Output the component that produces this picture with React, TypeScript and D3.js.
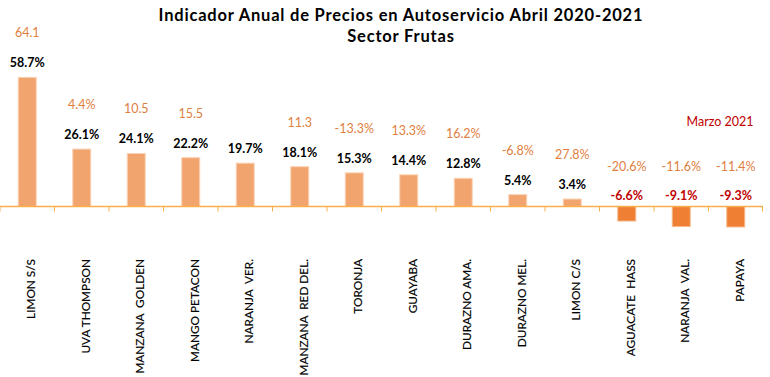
import React from "react";
import * as d3 from "d3";

const categories = [
  "LIMON S/S", "UVA THOMPSON", "MANZANA  GOLDEN", "MANGO PETACON", "NARANJA  VER.",
  "MANZANA  RED DEL.", "TORONJA", "GUAYABA", "DURAZNO AMA.", "DURAZNO MEL.",
  "LIMON C/S", "AGUACATE  HASS", "NARANJA  VAL.", "PAPAYA",
];
const values2021 = [58.7, 26.1, 24.1, 22.2, 19.7, 18.1, 15.3, 14.4, 12.8, 5.4, 3.4, -6.6, -9.1, -9.3];
const marchLabels: (string | null)[] = [
  "64.1", "4.4%", "10.5", "15.5", null, "11.3", "-13.3%", "13.3%", "16.2%", "-6.8%",
  "27.8%", "-20.6%", "-11.6%", "-11.4%",
];
const titleLines = ["Indicador Anual de Precios en Autoservicio Abril 2020-2021", "Sector Frutas"];
const noteText = "Marzo 2021";

const W = 770;
const H = 377;
const FONT = "Lato, 'Open Sans', sans-serif";

export default function App() {
  const x = d3.scaleBand<string>().domain(categories).range([0, 763]).padding(0);
  const y = d3.scaleLinear().domain([-15, 70]).range([239.5, 52.5]);
  const bw = x.bandwidth() * 0.33;
  const y0 = y(0);
  const fmt = (v: number) => v.toFixed(1) + "%";

  return (
    <svg width={W} height={H} style={{ position: "absolute", left: 0, top: 0, background: "#fff" }} fontFamily={FONT}>
      {titleLines.map((t, i) => (
        <text key={t} x={401} y={21 + i * 21} textAnchor="middle" fontSize={16.5} fontWeight={700} fill="#000" letterSpacing={0.8}>
          {t}
        </text>
      ))}
      <text x={720} y={126} textAnchor="middle" fontSize={12.5} fill="#C00000">{noteText}</text>

      {categories.map((c, i) => {
        const v = values2021[i];
        const cx = (x(c) as number) + x.bandwidth() / 2;
        const top = v >= 0 ? y(v) : y0;
        const h = Math.abs(y(v) - y0);
        return (
          <g key={c}>
            <rect
              x={cx - bw / 2}
              y={top}
              width={bw}
              height={h}
              fill={v >= 0 ? "#F2A46E" : "#EE7F33"}
              stroke={v >= 0 ? "#FAD3B5" : "#F6B98C"}
              strokeWidth={1}
            />
          </g>
        );
      })}

      <line x1={0} x2={763} y1={y0} y2={y0} stroke="#F9AE4E" strokeWidth={1.5} />
      {d3.range(categories.length + 1).map((i) => {
        const tx = Math.min(762.5, i * x.step());
        return <line key={i} x1={tx} x2={tx} y1={y0} y2={y0 + 5} stroke="#F9AE4E" strokeWidth={1} />;
      })}

      {categories.map((c, i) => {
        const v = values2021[i];
        const cx = (x(c) as number) + x.bandwidth() / 2;
        const anchorY = v >= 0 ? y(v) : y0;
        const m = marchLabels[i];
        return (
          <g key={"l" + c}>
            <text x={cx} y={anchorY - (v >= 0 ? 10 : 7)} textAnchor="middle" fontSize={12.5} fontWeight={700} fill={v >= 0 ? "#000" : "#C00000"}>
              {fmt(v)}
            </text>
            {m && (
              <text x={cx} y={anchorY - (v >= 0 ? 40 : 36)} textAnchor="middle" fontSize={12.5} fill="#E0803F">
                {m}
              </text>
            )}
            <text
              transform={`translate(${cx + 4},259) rotate(-90)`}
              textAnchor="end"
              dy="0.35em"
              fontSize={11.8}
              fill="#000"
              stroke="#000"
              strokeWidth={0.15}
              style={{ whiteSpace: "pre" }}
            >
              {c}
            </text>
          </g>
        );
      })}
    </svg>
  );
}
